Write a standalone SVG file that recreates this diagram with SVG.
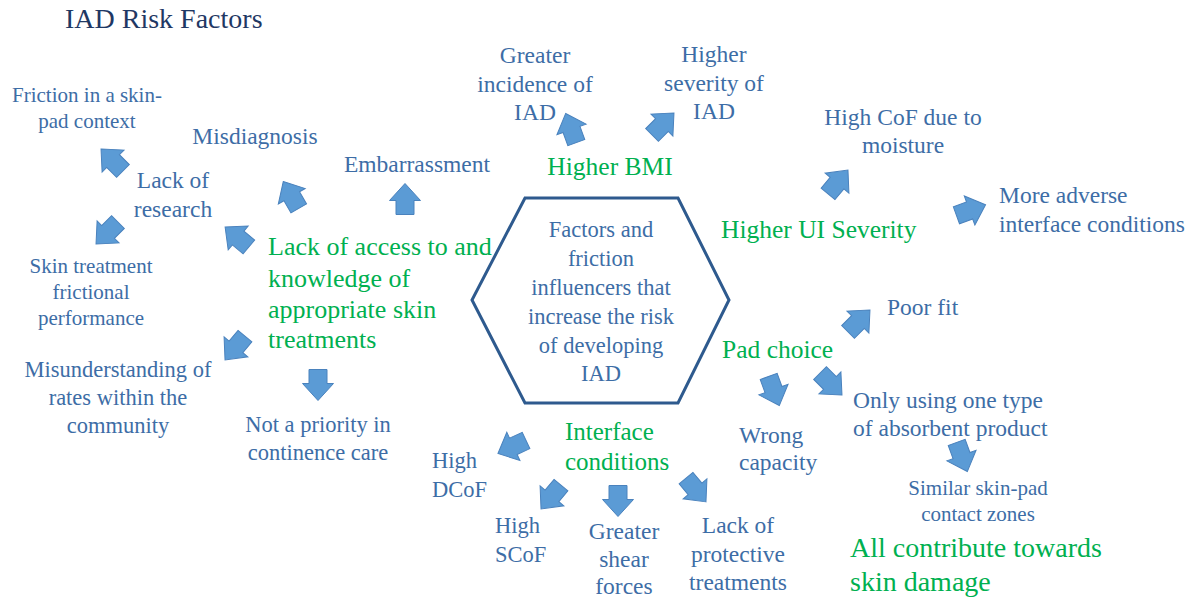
<svg xmlns="http://www.w3.org/2000/svg" width="1195" height="599" viewBox="0 0 1195 599" font-family="'Liberation Serif', 'Times New Roman', 'DejaVu Serif', serif">
<style>
text, tspan{font-family:'Liberation Serif', 'Times New Roman', 'DejaVu Serif', serif;}
.b{fill:#3d6da6;}
.g{fill:#00b050;}
.t{fill:#1f3864;}
.c{text-anchor:middle;}
.arr{fill:#5b9bd5;stroke:#4a82bd;stroke-width:1;}
</style>
<defs>
<path id="ar" d="M0,-15.5 L15.5,1.5 L9,1.5 L9,15.5 L-9,15.5 L-9,1.5 L-15.5,1.5 Z"/>
</defs>
<rect width="1195" height="599" fill="#ffffff"/>
<text class="t" x="65" y="28" font-size="28">IAD Risk Factors</text>

<g id="center">
<polygon points="525,198 678,198 729,300 678,403 525,403 472,300" fill="none" stroke="#2e5a8e" stroke-width="3"/>
<text class="b c" font-size="22.5" x="601"><tspan x="601" y="237">Factors and</tspan><tspan x="601" y="266">friction</tspan><tspan x="601" y="295">influencers that</tspan><tspan x="601" y="324">increase the risk</tspan><tspan x="601" y="353">of developing</tspan><tspan x="601" y="381">IAD</tspan></text>
</g>

<g id="lack-access">
<text class="g" font-size="26"><tspan x="268" y="255">Lack of access to and</tspan><tspan x="268" y="287">knowledge of</tspan><tspan x="268" y="318">appropriate skin</tspan><tspan x="268" y="348">treatments</tspan></text>
</g>
<g id="friction-skin-pad">
<text class="b c" font-size="21"><tspan x="87" y="102">Friction in a skin-</tspan><tspan x="87" y="128">pad context</tspan></text>
</g>
<g id="misdiagnosis"><text class="b c" font-size="23.5" x="255" y="144">Misdiagnosis</text></g>
<g id="lack-research"><text class="b c" font-size="23.5"><tspan x="173" y="188">Lack of</tspan><tspan x="173" y="217">research</tspan></text></g>
<g id="embarrassment"><text class="b c" font-size="23.5" x="417" y="172">Embarrassment</text></g>
<g id="skin-treatment"><text class="b c" font-size="21"><tspan x="91" y="273">Skin treatment</tspan><tspan x="91" y="299">frictional</tspan><tspan x="91" y="325">performance</tspan></text></g>
<g id="misunderstanding"><text class="b c" font-size="22.5"><tspan x="118" y="377">Misunderstanding of</tspan><tspan x="118" y="405">rates within the</tspan><tspan x="118" y="433">community</tspan></text></g>
<g id="not-priority"><text class="b c" font-size="22.5"><tspan x="318" y="432">Not a priority in</tspan><tspan x="318" y="460">continence care</tspan></text></g>

<g id="higher-bmi"><text class="g c" font-size="25.5" x="610" y="175">Higher BMI</text></g>
<g id="greater-incidence"><text class="b c" font-size="23.5"><tspan x="535" y="63">Greater</tspan><tspan x="535" y="92">incidence of</tspan><tspan x="535" y="120">IAD</tspan></text></g>
<g id="higher-severity"><text class="b c" font-size="23.5"><tspan x="714" y="62">Higher</tspan><tspan x="714" y="91">severity of</tspan><tspan x="714" y="119">IAD</tspan></text></g>

<g id="higher-ui"><text class="g" font-size="25.5" x="721" y="238">Higher UI Severity</text></g>
<g id="high-cof"><text class="b c" font-size="23.5"><tspan x="903" y="125">High CoF due to</tspan><tspan x="903" y="153">moisture</tspan></text></g>
<g id="more-adverse"><text class="b" font-size="23.5"><tspan x="999" y="203">More adverse</tspan><tspan x="999" y="232">interface conditions</tspan></text></g>

<g id="pad-choice"><text class="g" font-size="25.5" x="722" y="358">Pad choice</text></g>
<g id="poor-fit"><text class="b" font-size="23.5" x="887" y="315">Poor fit</text></g>
<g id="wrong-capacity"><text class="b" font-size="23.5"><tspan x="739" y="443">Wrong</tspan><tspan x="739" y="470">capacity</tspan></text></g>
<g id="only-using"><text class="b" font-size="23.5"><tspan x="853" y="408">Only using one type</tspan><tspan x="853" y="436">of absorbent product</tspan></text></g>
<g id="similar-zones"><text class="b c" font-size="21"><tspan x="978" y="495">Similar skin-pad</tspan><tspan x="978" y="521">contact zones</tspan></text></g>
<g id="all-contribute"><text class="g" font-size="28"><tspan x="850" y="557">All contribute towards</tspan><tspan x="850" y="591">skin damage</tspan></text></g>

<g id="interface"><text class="g" font-size="25"><tspan x="565" y="440">Interface</tspan><tspan x="565" y="470">conditions</tspan></text></g>
<g id="high-dcof"><text class="b" font-size="22.5"><tspan x="432" y="468">High</tspan><tspan x="432" y="497">DCoF</tspan></text></g>
<g id="high-scof"><text class="b" font-size="22.5"><tspan x="495" y="533">High</tspan><tspan x="495" y="562">SCoF</tspan></text></g>
<g id="greater-shear"><text class="b c" font-size="23.5"><tspan x="624" y="539">Greater</tspan><tspan x="624" y="567">shear</tspan><tspan x="624" y="594">forces</tspan></text></g>
<g id="lack-protective"><text class="b c" font-size="23.5"><tspan x="738" y="533">Lack of</tspan><tspan x="738" y="562">protective</tspan><tspan x="738" y="590">treatments</tspan></text></g>

<g id="connectors">
<use href="#ar" class="arr" transform="translate(112,160) rotate(-45)"/>
<use href="#ar" class="arr" transform="translate(107,233) rotate(-135)"/>
<use href="#ar" class="arr" transform="translate(237,237) rotate(-50)"/>
<use href="#ar" class="arr" transform="translate(291,195) rotate(-30)"/>
<use href="#ar" class="arr" transform="translate(405,199) rotate(0)"/>
<use href="#ar" class="arr" transform="translate(571,128) rotate(-20)"/>
<use href="#ar" class="arr" transform="translate(663,124) rotate(45)"/>
<use href="#ar" class="arr" transform="translate(838,182) rotate(40)"/>
<use href="#ar" class="arr" transform="translate(971,210) rotate(70)"/>
<use href="#ar" class="arr" transform="translate(235,348) rotate(-140)"/>
<use href="#ar" class="arr" transform="translate(318,385) rotate(180)"/>
<use href="#ar" class="arr" transform="translate(512,447) rotate(-115)"/>
<use href="#ar" class="arr" transform="translate(551,497) rotate(-140)"/>
<use href="#ar" class="arr" transform="translate(618,501) rotate(180)"/>
<use href="#ar" class="arr" transform="translate(696,490) rotate(140)"/>
<use href="#ar" class="arr" transform="translate(774,391) rotate(160)"/>
<use href="#ar" class="arr" transform="translate(831,384) rotate(135)"/>
<use href="#ar" class="arr" transform="translate(859,321) rotate(45)"/>
<use href="#ar" class="arr" transform="translate(962,457) rotate(160)"/>
</g>
</svg>
